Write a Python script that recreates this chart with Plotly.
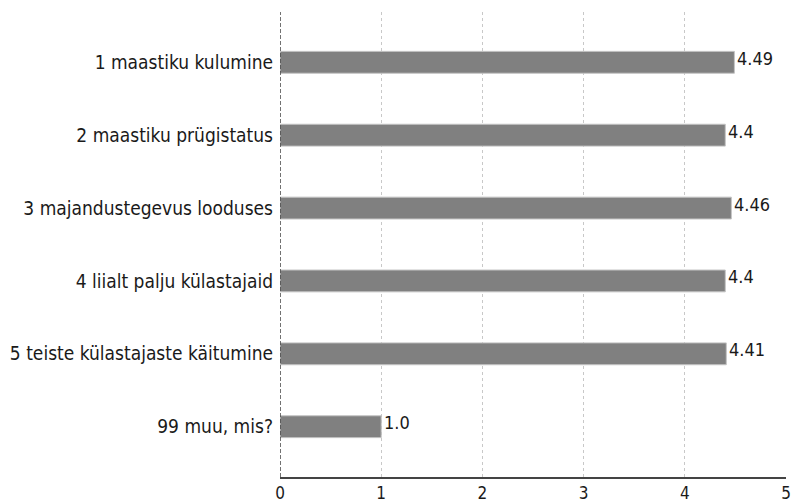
import plotly.graph_objects as go

categories = [
    "1 maastiku kulumine",
    "2 maastiku prügistatus",
    "3 majandustegevus looduses",
    "4 liialt palju külastajaid",
    "5 teiste külastajaste käitumine",
    "99 muu, mis?",
]
values = [4.49, 4.4, 4.46, 4.4, 4.41, 1.0]
value_labels = ["4.49", "4.4", "4.46", "4.4", "4.41", "1.0"]
x_ticks = [0, 1, 2, 3, 4, 5]

font_family = "DejaVu Sans Condensed, DejaVu Sans, sans-serif"
text_color = "#1a1a1a"

fig = go.Figure(
    go.Bar(
        y=categories,
        x=values,
        orientation="h",
        width=0.3,
        marker=dict(color="#808080", line=dict(color="#c4c4c4", width=1)),
        hoverinfo="skip",
    )
)

for cat, val, lab in zip(categories, values, value_labels):
    fig.add_annotation(
        x=val, y=cat, text=lab, showarrow=False,
        xanchor="left", yanchor="middle", xshift=1, yshift=4,
        font=dict(size=18, color=text_color, family=font_family),
    )

fig.add_shape(
    type="line", xref="x", yref="paper", x0=0, x1=0, y0=0, y1=1,
    line=dict(color="#444444", width=1.5, dash="4px,2px"),
)

fig.update_layout(
    width=799,
    height=504,
    margin=dict(l=280, r=13, t=12, b=27, autoexpand=False),
    plot_bgcolor="white",
    paper_bgcolor="white",
    showlegend=False,
    font=dict(family=font_family, size=19, color=text_color),
    xaxis=dict(
        range=[0, 5],
        tickvals=x_ticks,
        ticktext=[str(t) for t in x_ticks],
        showgrid=True,
        gridcolor="#c8c8c8",
        griddash="3px,3px",
        gridwidth=1,
        zeroline=False,
        showline=True,
        linecolor="#444444",
        linewidth=2,
        ticks="",
        automargin=False,
        ticklabelstandoff=0,
        tickfont=dict(size=17, color=text_color),
    ),
    yaxis=dict(
        categoryorder="array",
        categoryarray=categories,
        autorange=False,
        range=[5.69, -0.69],
        showgrid=False,
        zeroline=False,
        showline=False,
        ticks="",
        automargin=False,
        ticklabelstandoff=6,
        tickfont=dict(size=19, color=text_color),
    ),
)

fig.write_html(
    "out.html",
    config={"displayModeBar": False, "staticPlot": True},
    post_script="document.body.style.margin='0';document.body.style.overflow='hidden';",
)
